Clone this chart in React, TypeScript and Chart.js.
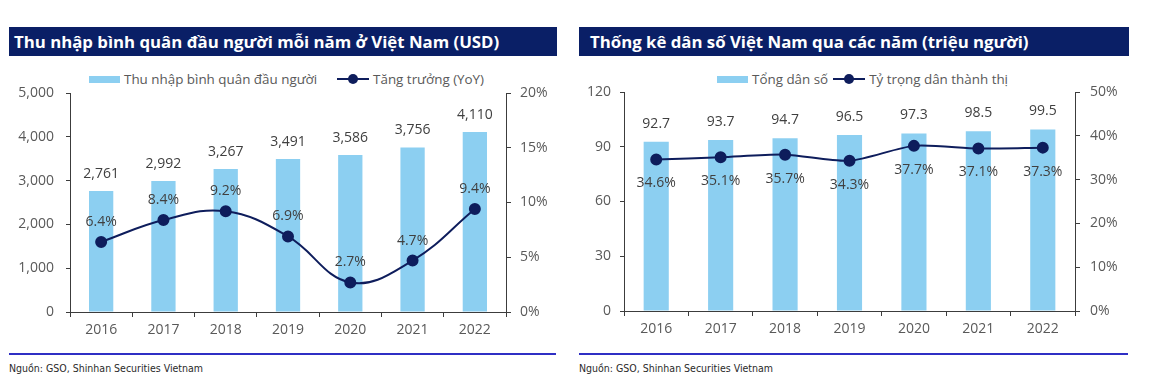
import React, { useEffect, useRef } from "react";
import { Chart, registerables } from "chart.js";

Chart.register(...registerables);

const years = ["2016", "2017", "2018", "2019", "2020", "2021", "2022"];
const incomeValues = [2761, 2992, 3267, 3491, 3586, 3756, 4110];
const incomeGrowth = [6.4, 8.4, 9.2, 6.9, 2.7, 4.7, 9.4];
const populationValues = [92.7, 93.7, 94.7, 96.5, 97.3, 98.5, 99.5];
const urbanShare = [34.6, 35.1, 35.7, 34.3, 37.7, 37.1, 37.3];

const incomeAxis = { min: 0, max: 5000, step: 1000 };
const growthAxis = { min: 0, max: 20, step: 5 };
const populationAxis = { min: 0, max: 120, step: 30 };
const shareAxis = { min: 0, max: 50, step: 10 };

const leftTitle = "Thu nhập bình quân đầu người mỗi năm ở Việt Nam (USD)";
const rightTitle = "Thống kê dân số Việt Nam qua các năm (triệu người)";
const leftLegend = ["Thu nhập bình quân đầu người", "Tăng trưởng (YoY)"];
const rightLegend = ["Tổng dân số", "Tỷ trọng dân thành thị"];
const sourceText = "Nguồn: GSO, Shinhan Securities Vietnam";

const BAR = "#8ccff1";
const LINE = "#0e1d5c";
const NAVY = "#0a1f66";
const RULE = "#2f2fc4";
const TXT = "#595959";
const LBL = "#404040";
const AXIS = "#3c3c3c";
const FONT = "'Open Sans', 'Noto Sans', sans-serif";

type PanelProps = {
  left: number;
  width: number;
  title: string;
  titlePad: number;
  legend: string[];
  legendLeft: number;
  legendGap: number;
  bars: number[];
  line: number[];
  yL: { min: number; max: number; step: number };
  yR: { min: number; max: number; step: number };
  yLWidth: number;
  yRWidth: number;
  yLPad: number;
  yRPad: number;
  top: number;
  bottom: number;
  barFmt: (v: number) => string;
  lineFmt: (v: number) => string;
  barDy: number;
  lineDy: number;
  tension: number;
};

function Panel(p: PanelProps) {
  const ref = useRef<HTMLCanvasElement | null>(null);
  useEffect(() => {
    if (!ref.current) return;
    const labelPlugin = {
      id: "valueLabels",
      afterDatasetsDraw(chart: any) {
        const ctx = chart.ctx;
        ctx.save();
        ctx.font = `14px ${FONT}`;
        ctx.fillStyle = LBL;
        ctx.textAlign = "center";
        ctx.textBaseline = "middle";
        chart.data.datasets.forEach((ds: any, i: number) => {
          const meta = chart.getDatasetMeta(i);
          const isBar = ds.type === "bar";
          meta.data.forEach((el: any, j: number) => {
            const v = ds.data[j];
            const t = isBar ? p.barFmt(v) : p.lineFmt(v);
            ctx.fillText(t, el.x, el.y + (isBar ? p.barDy : p.lineDy));
          });
        });
        ctx.restore();
      },
    };
    const tickFont = { family: FONT, size: 14 };
    const chart = new Chart(ref.current, {
      type: "bar",
      data: {
        labels: years,
        datasets: [
          {
            type: "line",
            data: p.line,
            yAxisID: "yR",
            borderColor: LINE,
            backgroundColor: LINE,
            borderWidth: 2,
            pointRadius: 5,
            pointBackgroundColor: LINE,
            pointBorderColor: LINE,
            tension: p.tension,
            order: 0,
          } as any,
          {
            type: "bar",
            data: p.bars,
            yAxisID: "yL",
            backgroundColor: BAR,
            barPercentage: 0.39,
            categoryPercentage: 1,
            order: 1,
          } as any,
        ],
      },
      options: {
        animation: false,
        responsive: false,
        layout: { padding: { top: p.top, left: 0, right: 0, bottom: 0 } },
        plugins: { legend: { display: false }, tooltip: { enabled: false } },
        scales: {
          x: {
            grid: {
              drawOnChartArea: false,
              drawTicks: true,
              tickLength: 5,
              color: AXIS,
              offset: true,
            },
            border: { color: AXIS, width: 1 },
            ticks: { color: TXT, font: tickFont, padding: 5 },
            afterFit: (s: any) => {
              s.height = p.bottom;
            },
          },
          yL: {
            position: "left",
            min: p.yL.min,
            max: p.yL.max,
            grid: { drawOnChartArea: false, tickLength: 4, color: AXIS },
            border: { color: AXIS, width: 1 },
            ticks: {
              stepSize: p.yL.step,
              color: TXT,
              font: tickFont,
              padding: p.yLPad,
              callback: (v: any) => Number(v).toLocaleString("en-US"),
            },
            afterFit: (s: any) => {
              s.width = p.yLWidth;
            },
          },
          yR: {
            position: "right",
            min: p.yR.min,
            max: p.yR.max,
            grid: { drawOnChartArea: false, tickLength: 5, color: AXIS },
            border: { color: AXIS, width: 1 },
            ticks: {
              stepSize: p.yR.step,
              color: TXT,
              font: tickFont,
              padding: p.yRPad,
              callback: (v: any) => `${v}%`,
            },
            afterFit: (s: any) => {
              s.width = p.yRWidth;
            },
          },
        },
      } as any,
      plugins: [labelPlugin],
    });
    return () => chart.destroy();
  }, []);

  return (
    <div style={{ position: "absolute", left: p.left, top: 0, width: p.width, height: 385 }}>
      <div
        style={{
          position: "absolute",
          left: 0,
          top: 27,
          width: p.width,
          height: 29,
          background: NAVY,
          color: "#fff",
          fontFamily: FONT,
          fontWeight: 700,
          fontSize: 16.8,
          lineHeight: "29px",
          paddingLeft: p.titlePad,
          boxSizing: "border-box",
          whiteSpace: "nowrap",
        }}
      >
        {p.title}
      </div>
      <div
        style={{
          position: "absolute",
          left: p.legendLeft,
          top: 69,
          height: 20,
          display: "flex",
          alignItems: "center",
          fontFamily: FONT,
          fontSize: 13.4,
          color: TXT,
          whiteSpace: "nowrap",
        }}
      >
        <div style={{ width: 31, height: 7, background: BAR, marginRight: 4 }} />
        <span>{p.legend[0]}</span>
        <div style={{ position: "relative", width: 32, height: 12, marginLeft: p.legendGap, marginRight: 4 }}>
          <div style={{ position: "absolute", left: 0, top: 5, width: 32, height: 2, background: LINE }} />
          <div
            style={{
              position: "absolute",
              left: 11,
              top: 1,
              width: 10,
              height: 10,
              borderRadius: 5,
              background: LINE,
            }}
          />
        </div>
        <span>{p.legend[1]}</span>
      </div>
      <canvas
        ref={ref}
        width={p.width}
        height={290}
        style={{ position: "absolute", left: 0, top: 60, width: p.width, height: 290 }}
      />
      <div
        style={{
          position: "absolute",
          left: 0,
          top: 353,
          width: p.width - 1,
          height: 2,
          background: RULE,
        }}
      />
      <div
        style={{
          position: "absolute",
          left: 0,
          top: 361,
          lineHeight: "14px",
          fontFamily: "'DejaVu Sans Condensed', 'DejaVu Sans', sans-serif",
          fontSize: 10.5,
          color: "#2a2a2a",
          whiteSpace: "nowrap",
        }}
      >
        {sourceText}
      </div>
    </div>
  );
}

export default function App() {
  return (
    <div
      style={{
        position: "absolute",
        left: 0,
        top: 0,
        width: 1150,
        height: 385,
        background: "#fff",
        overflow: "hidden",
      }}
    >
      <Panel
        left={9}
        width={548}
        title={leftTitle}
        titlePad={5}
        legend={leftLegend}
        legendLeft={80}
        legendGap={20}
        bars={incomeValues}
        line={incomeGrowth}
        yL={incomeAxis}
        yR={growthAxis}
        yLWidth={61}
        yRWidth={51}
        yLPad={12}
        yRPad={9}
        top={33}
        bottom={38}
        barFmt={(v) => v.toLocaleString("en-US")}
        lineFmt={(v) => `${v.toFixed(1)}%`}
        barDy={-17}
        lineDy={-20}
        tension={0.4}
      />
      <Panel
        left={579}
        width={550}
        title={rightTitle}
        titlePad={11}
        legend={rightLegend}
        legendLeft={138}
        legendGap={5}
        bars={populationValues}
        line={urbanShare}
        yL={populationAxis}
        yR={shareAxis}
        yLWidth={45}
        yRWidth={54}
        yLPad={9}
        yRPad={10}
        top={32}
        bottom={39}
        barFmt={(v) => v.toFixed(1)}
        lineFmt={(v) => `${v.toFixed(1)}%`}
        barDy={-18}
        lineDy={24}
        tension={0.25}
      />
    </div>
  );
}
